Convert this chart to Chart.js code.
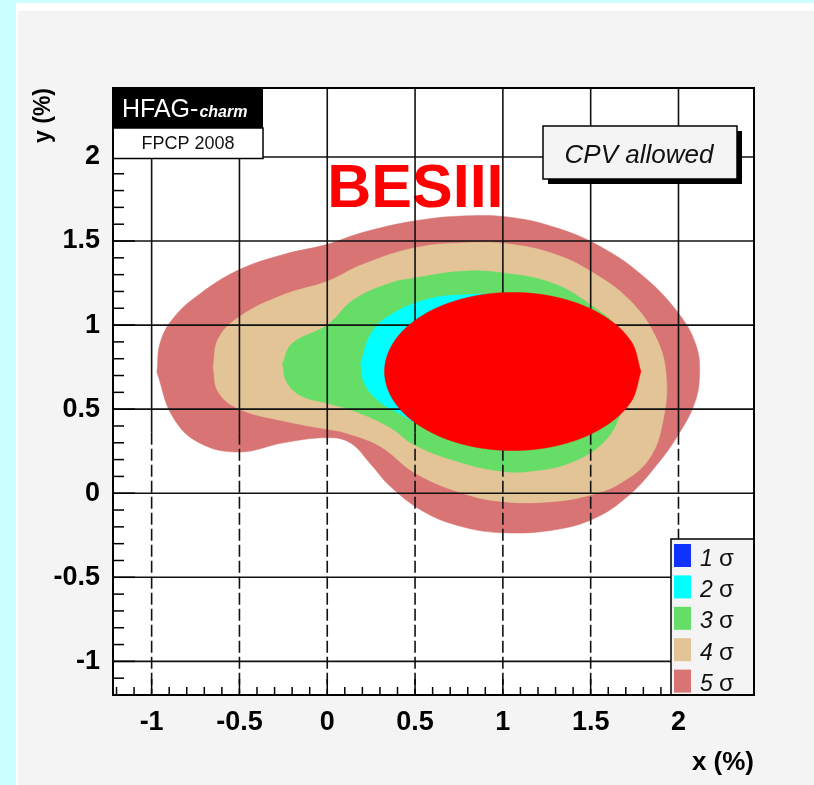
<!DOCTYPE html>
<html>
<head>
<meta charset="utf-8">
<script src="https://cdn.jsdelivr.net/npm/chart.js@4.4.0/dist/chart.umd.min.js"></script>
<style>
  html, body { margin: 0; padding: 0; }
  body { width: 814px; height: 785px; background: #ccffff; position: relative; overflow: hidden; }
  #paper { position: absolute; left: 16px; top: 3px; right: 0; bottom: 0; background: #fff; }
  #pad { position: absolute; left: 18px; top: 11px; right: 0; bottom: 0; background: #f4f4f4; }
  #chart { position: absolute; left: 0; top: 0; }
</style>
</head>
<body>
<div id="paper"></div>
<div id="pad"></div>
<canvas id="chart" width="814" height="785"></canvas>
<script>
// axis setup
const xRange = [-1.22, 2.43];
const yRange = [-1.2, 2.41];
const xTicks = [-1, -0.5, 0, 0.5, 1, 1.5, 2];
const yTicks = [-1, -0.5, 0, 0.5, 1, 1.5, 2];

// contours, [x, y] in %
const sigma5 = [
    [-0.97, 0.72], [-0.95, 0.90], [-0.87, 1.05], [-0.72, 1.19], [-0.5, 1.33],
    [-0.25, 1.42], [0.0, 1.48], [0.2, 1.55], [0.5, 1.62], [0.8, 1.65],
    [1.05, 1.64], [1.3, 1.58], [1.55, 1.47], [1.8, 1.29], [2.0, 1.07],
    [2.1, 0.88], [2.12, 0.70], [2.09, 0.53], [2.0, 0.35], [1.87, 0.16],
    [1.72, -0.01], [1.52, -0.15], [1.28, -0.22], [1.0, -0.235], [0.77, -0.20],
    [0.55, -0.11], [0.36, 0.04], [0.25, 0.17], [0.13, 0.30], [0.0, 0.33],
    [-0.25, 0.30], [-0.5, 0.245], [-0.73, 0.30], [-0.88, 0.455], [-0.97, 0.72]
];
const sigma4 = [
    [-0.65, 0.75], [-0.62, 0.92], [-0.5, 1.05], [-0.25, 1.18], [0.0, 1.26],
    [0.2, 1.36], [0.5, 1.46], [0.8, 1.49], [1.05, 1.48], [1.3, 1.42],
    [1.5, 1.32], [1.72, 1.15], [1.87, 0.93], [1.93, 0.70], [1.91, 0.42],
    [1.83, 0.20], [1.67, 0.06], [1.5, -0.01], [1.28, -0.05], [1.0, -0.05],
    [0.77, 0.0], [0.5, 0.12], [0.3, 0.28], [0.1, 0.36], [0.0, 0.38],
    [-0.25, 0.43], [-0.5, 0.50], [-0.62, 0.60], [-0.65, 0.75]
];
const sigma3 = [
    [-0.255, 0.77], [-0.2, 0.89], [0.0, 1.0], [0.15, 1.15], [0.36, 1.25],
    [0.5, 1.28], [0.77, 1.32], [1.0, 1.31], [1.28, 1.25], [1.5, 1.12],
    [1.68, 0.95], [1.74, 0.72], [1.68, 0.50], [1.58, 0.31], [1.38, 0.18],
    [1.15, 0.13], [1.0, 0.13], [0.77, 0.18], [0.5, 0.285], [0.36, 0.39],
    [0.15, 0.49], [0.0, 0.535], [-0.15, 0.58], [-0.23, 0.66], [-0.255, 0.77]
];
const sigma2 = [
    [0.19, 0.77], [0.25, 0.95], [0.36, 1.06], [0.56, 1.15], [0.77, 1.18],
    [1.0, 1.17], [1.3, 1.05], [1.45, 0.8], [1.35, 0.5], [1.0, 0.35],
    [0.6, 0.38], [0.40, 0.48], [0.28, 0.56], [0.21, 0.66], [0.19, 0.77]
];
const sigma1 = [
    [0.7, 0.7], [0.9, 0.95], [1.2, 0.9], [1.3, 0.65], [1.0, 0.5], [0.75, 0.55], [0.7, 0.7]
];
// BESIII projected region
const besiii = [
    [1.786, 0.724], [1.730, 0.904], [1.572, 1.056], [1.335, 1.158], [1.056, 1.194],
    [0.777, 1.158], [0.540, 1.056], [0.382, 0.904], [0.326, 0.724], [0.382, 0.544],
    [0.540, 0.392], [0.777, 0.290], [1.056, 0.254], [1.335, 0.290], [1.572, 0.392],
    [1.730, 0.544], [1.786, 0.724]
];

const sigmaLabels = ['1', '2', '3', '4', '5'];
const sigmaColors = ['#1133ff', '#00ffff', '#66dd66', '#e2c497', '#d87474'];

const fam = "'Liberation Sans', Arial, Helvetica, sans-serif";
const toPts = arr => arr.map(([x, y]) => ({ x, y }));

function region(label, pts, color, tension) {
    return {
        label: label,
        data: toPts(pts),
        showLine: true,
        fill: 'shape',
        backgroundColor: color,
        borderColor: color,
        borderWidth: 0.5,
        pointRadius: 0,
        tension: tension
    };
}

function drawGrid(chart) {
    const { ctx, chartArea: a, scales: { x, y } } = chart;
    ctx.save();
    ctx.strokeStyle = '#111';
    ctx.lineWidth = 1.6;
    const yCut = y.getPixelForValue(0.36);
    xTicks.forEach(v => {
        const px = x.getPixelForValue(v);
        ctx.setLineDash([]);
        ctx.beginPath(); ctx.moveTo(px, a.top); ctx.lineTo(px, yCut); ctx.stroke();
        ctx.setLineDash([12, 4]);
        ctx.beginPath(); ctx.moveTo(px, yCut); ctx.lineTo(px, a.bottom); ctx.stroke();
    });
    ctx.setLineDash([]);
    yTicks.forEach(v => {
        const py = y.getPixelForValue(v);
        ctx.beginPath(); ctx.moveTo(a.left, py); ctx.lineTo(a.right, py); ctx.stroke();
    });
    ctx.restore();
}

function drawAxisTicks(chart) {
    const { ctx, chartArea: a, scales: { x, y } } = chart;
    ctx.save();
    ctx.strokeStyle = '#000';
    ctx.lineWidth = 1.5;
    for (let i = -12; i <= 24; i++) {
        const v = i / 10;
        const major = i % 5 === 0;
        const px = x.getPixelForValue(v);
        if (px > a.left && px < a.right) {
            ctx.beginPath(); ctx.moveTo(px, a.bottom); ctx.lineTo(px, a.bottom - (major ? 16 : 8)); ctx.stroke();
        }
        const py = y.getPixelForValue(v);
        if (py > a.top && py < a.bottom) {
            ctx.beginPath(); ctx.moveTo(a.left, py); ctx.lineTo(a.left + (major ? 22 : 11), py); ctx.stroke();
        }
    }
    ctx.restore();
}

function drawBoxes(chart) {
    const { ctx, chartArea: a } = chart;
    ctx.save();
    // HFAG label
    ctx.fillStyle = '#000';
    ctx.fillRect(a.left, a.top, 150, 40);
    ctx.fillStyle = '#fff';
    ctx.fillRect(a.left, a.top + 40, 150, 30.5);
    ctx.strokeStyle = '#000';
    ctx.lineWidth = 1.5;
    ctx.strokeRect(a.left, a.top + 40, 150, 30.5);
    ctx.fillStyle = '#fff';
    ctx.textBaseline = 'alphabetic';
    ctx.font = '25px ' + fam;
    ctx.fillText('HFAG-', a.left + 9, a.top + 29);
    const w = ctx.measureText('HFAG-').width;
    ctx.font = 'italic bold 16px ' + fam;
    ctx.fillText('charm', a.left + 9 + w + 1, a.top + 29);
    ctx.fillStyle = '#111';
    ctx.font = '18px ' + fam;
    ctx.textAlign = 'center';
    ctx.fillText('FPCP 2008', a.left + 75, a.top + 60.5);

    // CPV allowed
    ctx.fillStyle = '#000';
    ctx.fillRect(548, 131, 194, 53);
    ctx.fillStyle = '#f4f4f4';
    ctx.fillRect(543, 126, 194, 53);
    ctx.strokeRect(543, 126, 194, 53);
    ctx.fillStyle = '#111';
    ctx.font = 'italic 26px ' + fam;
    ctx.fillText('CPV allowed', 639, 162.5);

    // legend
    const lx = a.right - 83, ly = a.bottom - 156;
    ctx.fillStyle = '#f4f4f4';
    ctx.fillRect(lx, ly, 83, 156);
    ctx.strokeRect(lx, ly, 83, 156);
    const sets = chart.data.datasets.slice(1);
    sets.forEach((ds, i) => {
        const cy = ly + 16.5 + i * 31.4;
        ctx.fillStyle = ds.backgroundColor;
        ctx.fillRect(lx + 3, cy - 11.5, 17, 23);
        ctx.fillStyle = '#111';
        ctx.textAlign = 'left';
        ctx.font = 'italic 23px ' + fam;
        ctx.fillText(ds.label, lx + 29, cy + 10);
        ctx.font = '24px ' + fam;
        ctx.fillText('\u03c3', lx + 48, cy + 10);
    });

    // frame
    ctx.lineWidth = 2;
    ctx.strokeStyle = '#000';
    ctx.strokeRect(a.left, a.top, a.right - a.left, a.bottom - a.top);
    ctx.restore();
}

const decor = {
    id: 'decor',
    beforeDraw(chart) {
        const { ctx, chartArea: a } = chart;
        ctx.save();
        ctx.fillStyle = '#fff';
        ctx.fillRect(a.left, a.top, a.right - a.left, a.bottom - a.top);
        ctx.restore();
    },
    afterDatasetDraw(chart, args) {
        if (args.index !== 1) return;
        const { ctx, scales: { x, y } } = chart;
        ctx.save();
        ctx.fillStyle = '#ff0000';
        ctx.font = 'bold 61px ' + fam;
        ctx.textBaseline = 'alphabetic';
        ctx.fillText('BESIII', x.getPixelForValue(0), y.getPixelForValue(1.70));
        ctx.restore();
        drawGrid(chart);
    },
    afterDraw(chart) {
        drawAxisTicks(chart);
        drawBoxes(chart);
    }
};

const tickFont = { family: fam, size: 27, weight: 'bold' };

new Chart(document.getElementById('chart'), {
    type: 'scatter',
    data: {
        datasets: [
            region('BESIII', besiii, '#ff0000', 0.35),
            region(sigmaLabels[0], sigma1, sigmaColors[0], 0.4),
            region(sigmaLabels[1], sigma2, sigmaColors[1], 0.4),
            region(sigmaLabels[2], sigma3, sigmaColors[2], 0.4),
            region(sigmaLabels[3], sigma4, sigmaColors[3], 0.4),
            region(sigmaLabels[4], sigma5, sigmaColors[4], 0.4)
        ]
    },
    options: {
        responsive: false,
        animation: false,
        events: [],
        layout: { padding: { top: 88, right: 60, bottom: 0, left: 0 } },
        plugins: {
            legend: { display: false },
            tooltip: { enabled: false },
            filler: { drawTime: 'beforeDatasetDraw' }
        },
        scales: {
            x: {
                type: 'linear',
                min: xRange[0],
                max: xRange[1],
                afterBuildTicks: s => { s.ticks = xTicks.map(v => ({ value: v })); },
                afterFit: s => { s.height = 90; },
                grid: { display: false },
                border: { display: false },
                ticks: { font: tickFont, color: '#000', padding: 3, maxRotation: 0, callback: v => String(v) },
                title: {
                    display: true, text: 'x (%)', align: 'end', color: '#000',
                    font: { family: fam, size: 26, weight: 'bold' },
                    padding: { top: 0, bottom: 7 }
                }
            },
            y: {
                type: 'linear',
                min: yRange[0],
                max: yRange[1],
                afterBuildTicks: s => { s.ticks = yTicks.map(v => ({ value: v })); },
                afterFit: s => { s.width = 113; },
                grid: { display: false },
                border: { display: false },
                ticks: { font: tickFont, color: '#000', padding: 5, callback: v => String(v) },
                title: {
                    display: true, text: 'y (%)', align: 'end', color: '#000',
                    font: { family: fam, size: 23, weight: 'bold' },
                    padding: { top: 30, bottom: 0 }
                }
            }
        }
    },
    plugins: [decor]
});
</script>
</body>
</html>
